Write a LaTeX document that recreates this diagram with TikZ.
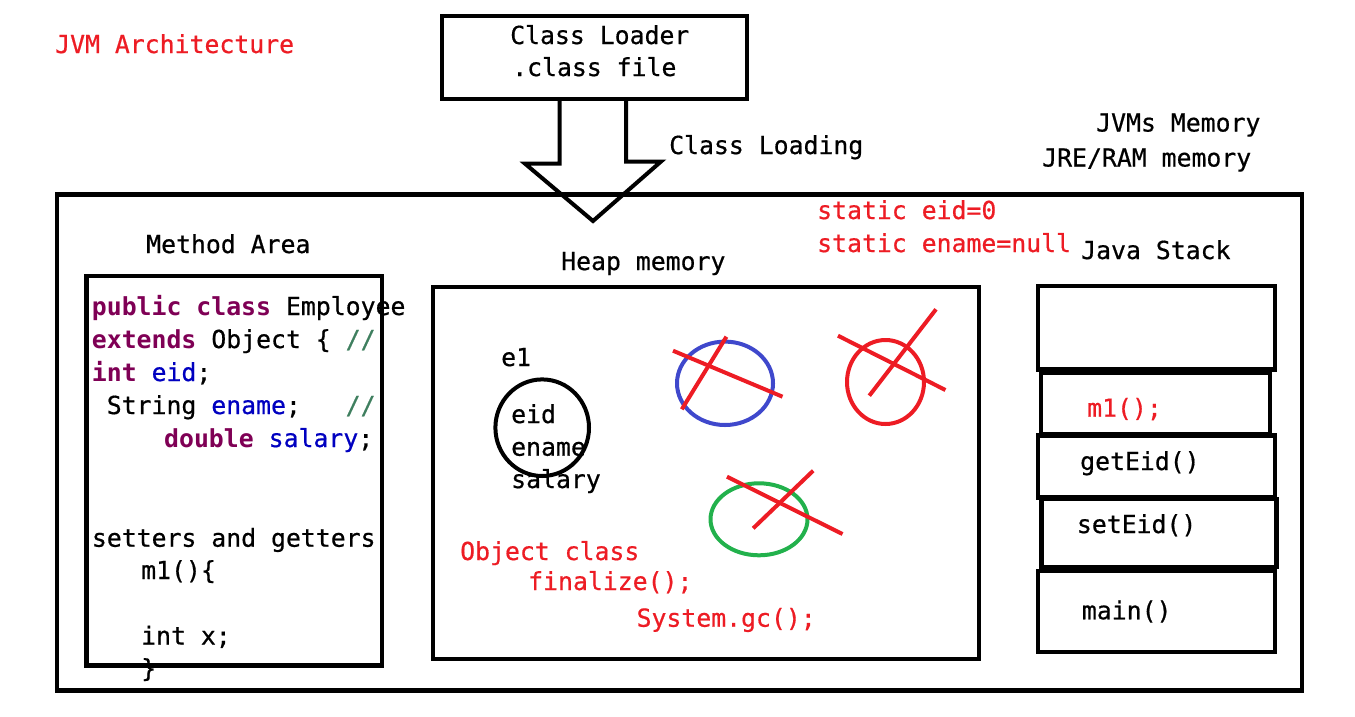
\documentclass[tikz,border=0pt]{standalone}
\usepackage{fontspec}
\setmonofont{DejaVu Sans Mono}[UprightFeatures={FakeBold=0.6}]
\usetikzlibrary{calc}
\definecolor{paintred}{RGB}{237,28,36}
\definecolor{paintblue}{RGB}{63,72,204}
\definecolor{paintgreen}{RGB}{34,177,76}
\definecolor{kwpurple}{RGB}{127,0,85}
\definecolor{fieldblue}{RGB}{0,0,192}
\definecolor{cmtgreen}{RGB}{63,127,95}
\newcommand{\kw}[1]{\textbf{\color{kwpurple}#1}}
\newcommand{\fld}[1]{{\color{fieldblue}#1}}
\newcommand{\cmt}[1]{{\color{cmtgreen}#1}}

\begin{document}
\begin{tikzpicture}[x=1pt,y=-1pt,line join=miter,
  txt/.style={anchor=base west,inner sep=0pt,font=\ttfamily\fontsize{24.8}{30}\selectfont},
  redtxt/.style={txt,text=paintred},
  boxnode/.style 2 args={draw,line width=4.5pt,inner sep=0pt,minimum width=#1,minimum height=#2},
  cross/.style={paintred,line width=4pt}]
\useasboundingbox (0,0) rectangle (1355,716);

\node[redtxt] (title) at (55,53) {JVM Architecture};

% class loader and the loading arrow
\node[boxnode={305pt}{83pt},line width=4.3pt] (loader) at (594.5,57.5) {};
\node[txt] (ldr1) at (510,44) {Class Loader};
\node[txt] (ldr2) at (512,76) {.class file};
\coordinate (tip) at (593,221);
\draw[line width=4pt] ([xshift=-35pt]loader.south) -- ++(0,62.5) -- ++(-34.5,0) -- (tip)
  -- ++(68,-59.5) -- ++(-35,0) -- ([xshift=31.5pt]loader.south);
\node[txt] (loading) at (669,154) {Class Loading};

\node[txt] (jvmmem) at (1096,131.5) {JVMs Memory};
\node[txt] (jremem) at (1042,166.5) {JRE/RAM memory};

% JVM memory frame
\node[boxnode={1245pt}{496pt}] (memframe) at (679.5,442.5) {};
\node[redtxt] (seid) at (817,219) {static eid=0};
\node[redtxt] (sename) at (817,252) {static ename=null};

% method area
\node[txt] (methodlbl) at (146,253) {Method Area};
\node[boxnode={295.5pt}{389.5pt}] (methodbox) at (234.25,470.75) {};
\node[txt] (c1) at (91.7,315) {\kw{public class} Employee};
\node[txt] (c2) at (91.7,348) {\kw{extends} Object \{ \cmt{//}};
\node[txt] (c3) at (91.7,381) {\kw{int} \fld{eid};};
\node[txt] (c4) at (106.6,414) {String \fld{ename};~~~\cmt{//}};
\node[txt] (c5) at (164,447) {\kw{double} \fld{salary};};
\node[txt] (c6) at (91.7,546.7) {setters and getters};
\node[txt] (c7) at (141,579) {m1()\{};
\node[txt] (c8) at (141,644.5) {int x;};
\node[txt] (c9) at (141,677) {\}};

% heap memory
\node[txt] (heaplbl) at (561,270) {Heap memory};
\node[boxnode={546pt}{372pt},line width=4pt] (heapbox) at (706,473) {};
\node[txt] (e1) at (501,366) {e1};
\draw[line width=4pt] (542.2,427.7) ellipse [x radius=46.8pt,y radius=48.3pt];
\node[txt] (feid) at (511,423) {eid};
\node[txt] (fename) at (511,455.7) {ename};
\node[txt] (fsalary) at (511,488) {salary};

\draw[paintblue,line width=4pt] (725,383.3) ellipse [x radius=48pt,y radius=41.7pt];
\draw[cross] (673,350.7) -- (782.5,396.7);
\draw[cross] (681.8,409.3) -- (726.4,336.7);
\draw[paintred,line width=4pt] (885.5,382) ellipse [x radius=38.5pt,y radius=42pt];
\draw[cross] (838,335.7) -- (945.4,390);
\draw[cross] (869.3,395.7) -- (936,309.3);
\draw[paintgreen,line width=4pt] (759,519.3) ellipse [x radius=48.5pt,y radius=36pt];
\draw[cross] (727,476.7) -- (842.5,534);
\draw[cross] (753.2,528.3) -- (813.2,470.7);

\node[redtxt] (objcls) at (460,560) {Object class};
\node[redtxt] (finlz) at (528,590) {finalize();};
\node[redtxt] (sysgc) at (636.4,626.7) {System.gc();};

% java stack
\node[txt] (stacklbl) at (1081,259) {Java Stack};
\node[boxnode={237pt}{83.5pt}] (fr1) at (1156.5,327.75) {};
\node[boxnode={229pt}{61.5pt}] (fr2) at (1155.5,403.25) {};
\node[boxnode={237pt}{62pt}] (fr3) at (1156.5,466.5) {};
\node[boxnode={235pt}{68pt}] (fr4) at (1159.2,533) {};
\node[boxnode={237pt}{81pt}] (fr5) at (1156.5,611.5) {};
\node[redtxt] (m1) at (1087,416.7) {m1();};
\node[txt] (geteid) at (1080,470) {getEid()};
\node[txt] (seteid) at (1076.7,533) {setEid()};
\node[txt] (mainm) at (1081.7,619.3) {main()};
\end{tikzpicture}
\end{document}
